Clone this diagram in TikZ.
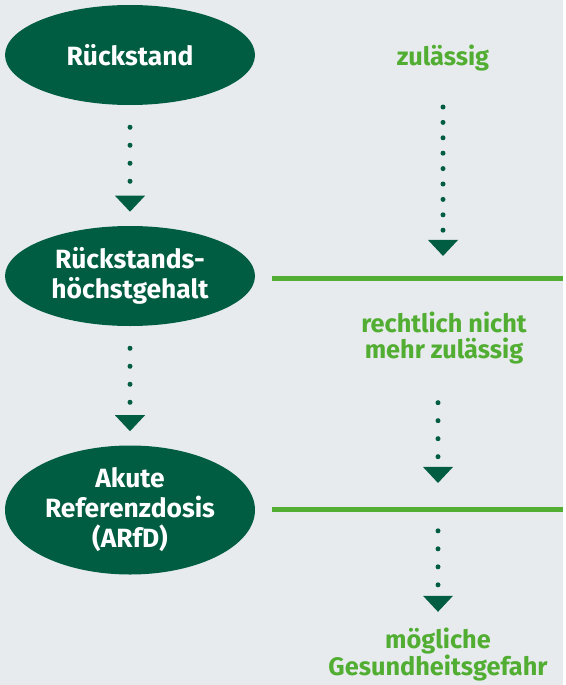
\documentclass[tikz,border=0pt]{standalone}
\usepackage{fontspec}
\setmainfont{Fira Sans}
\usetikzlibrary{shapes.geometric,arrows.meta}
\definecolor{bgGrey}{HTML}{E7EBEE}
\definecolor{darkGreen}{HTML}{005D41}
\definecolor{lightGreen}{HTML}{52AE32}
\tikzset{
  stage/.style={ellipse, fill=darkGreen, text=white, inner sep=0pt,
    minimum width=187.5pt, minimum height=75pt, align=center,
    font=\bfseries\fontsize{19.8}{22.5}\selectfont},
  verdict/.style={text=lightGreen, align=center, inner sep=0pt,
    font=\bfseries\fontsize{19}{20}\selectfont},
  dotarrow/.style={darkGreen, line width=3.75pt, line cap=round,
    dash pattern=on 0pt off 13.5pt,
    -{Triangle[width=22.5pt,length=12pt,line width=0pt]}},
  limit/.style={lightGreen, line width=3.75pt}
}
\begin{document}
\begin{tikzpicture}[x=0.75pt,y=-0.75pt]
  \fill[bgGrey] (0,0) rectangle (563,685);
  % left column
  \node[stage] (r1) at (130,55) {Rückstand};
  \node[stage] (r2) at (130,276) {Rückstands-\\höchstgehalt};
  \node[stage, minimum height=96.75pt] (r3) at (130,510) {Akute\\Referenzdosis\\(ARfD)};
  \draw[dotarrow, shorten <=16.5pt, shorten >=10.5pt] (r1) -- (r2);
  \draw[dotarrow, shorten <=16.5pt, shorten >=10.5pt] (r2) -- (r3);
  % limits
  \coordinate (lim1) at (272,278.5);
  \coordinate (lim2) at (272,509.5);
  \draw[limit] (lim1) -- ++(291,0);
  \draw[limit] (lim2) -- ++(291,0);
  % right column
  \node[verdict, anchor=base] (zul) at (443,65) {zulässig};
  \node[verdict] (legal) at (444,338) {rechtlich nicht\\mehr zulässig};
  \coordinate (mid2) at (438,509.5);
  \node[verdict] (risk) at (438,654.5) {mögliche\\Gesundheitsgefahr};
  \draw[dotarrow, dash pattern=on 0pt off 11.55pt, shorten <=31.5pt, shorten >=16.9pt]
    (zul.base) -- (zul.base |- lim1);
  \draw[dotarrow, shorten <=28.5pt, shorten >=19.9pt] (legal.south -| mid2) -- (mid2);
  \draw[dotarrow, shorten <=16pt, shorten >=12pt] (mid2) -- (risk);
\end{tikzpicture}
\end{document}
